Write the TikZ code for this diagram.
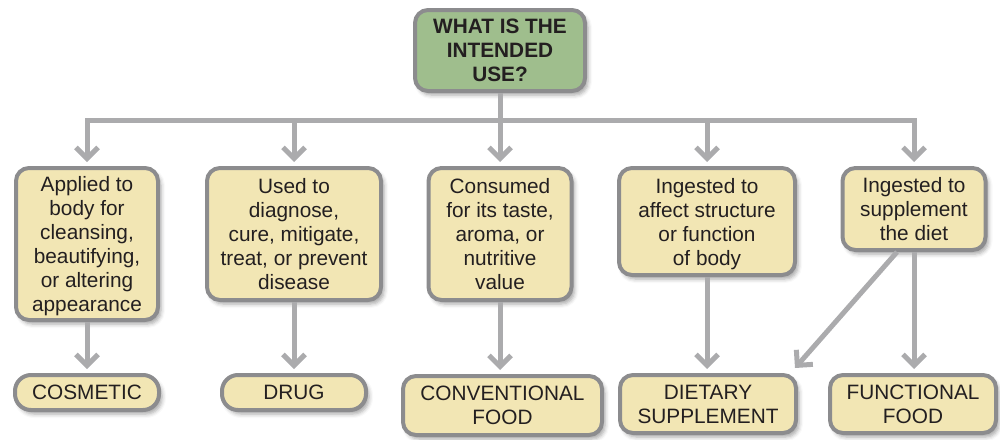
\documentclass[tikz,border=0pt]{standalone}
\usepackage{fontspec}
\setmainfont{Liberation Sans}
\usetikzlibrary{arrows.meta,shadows.blur}
\definecolor{boxfill}{HTML}{F2E6B4}
\definecolor{topfill}{HTML}{9FBE8D}
\definecolor{boxline}{HTML}{8C8C8E}
\definecolor{linkgray}{HTML}{ABABAD}
\definecolor{ink}{HTML}{231F20}
\tikzset{
  % a fixed (negative) text depth keeps descenders from lifting the text block
  box/.style={draw=boxline, line width=4pt, fill=boxfill, rounded corners=13pt,
    align=center, inner sep=0pt, text=ink, text depth=-3pt,
    font=\fontsize{20.8}{24}\selectfont,
    blur shadow={shadow xshift=3pt, shadow yshift=-4pt, shadow blur radius=4pt, shadow opacity=35}},
  question/.style={box, fill=topfill, font=\fontsize{20.8}{24}\selectfont\bfseries},
  link/.style={draw=linkgray, line width=5pt},
  arrowlink/.style={link, -{Straight Barb[length=11pt,width=22pt]}, shorten >=4pt},
}
\begin{document}
\begin{tikzpicture}[x=1pt,y=-1pt]
\useasboundingbox (0,0) rectangle (1000,439);

% question at the top
\node[question, minimum width=170pt, minimum height=81pt] (q) at (500,50.5)
  {WHAT IS THE\\INTENDED\\USE?};

% descriptions of intended use
\node[box, minimum width=142pt, minimum height=152pt] (b1) at (87,244)
  {Applied to\\body for\\cleansing,\\beautifying,\\or altering\\appearance};
\node[box, minimum width=174pt, minimum height=132pt] (b2) at (294,234)
  {Used to\\diagnose,\\cure, mitigate,\\treat, or prevent\\disease};
\node[box, minimum width=143pt, minimum height=132pt] (b3) at (500,234)
  {Consumed\\for its taste,\\aroma, or\\nutritive\\value};
\node[box, minimum width=176pt, minimum height=107pt] (b4) at (707,221.5)
  {Ingested to\\affect structure\\or function\\of body};
\node[box, minimum width=143pt, minimum height=82pt] (b5) at (914,209)
  {Ingested to\\supplement\\the diet};

% resulting categories
\node[box, minimum width=144pt, minimum height=35pt, rounded corners=16pt] (c1) at (87,392.5) {COSMETIC};
\node[box, minimum width=144pt, minimum height=35pt, rounded corners=16pt] (c2) at (294,392.5) {DRUG};
\node[box, minimum width=199pt, minimum height=59pt] (c3) at (502.5,405.5) {CONVENTIONAL\\FOOD};
\node[box, minimum width=176pt, minimum height=58pt] (c4) at (708,404) {DIETARY\\SUPPLEMENT};
\node[box, minimum width=166pt, minimum height=58pt] (c5) at (913,404) {FUNCTIONAL\\FOOD};

% branching connectors from the question
\coordinate (split) at (500,120);
\foreach \b in {b1,b2,b3,b4,b5}
  \draw[arrowlink] (q.south) -- (split) -| (\b.north);

% connectors to the categories
\draw[arrowlink] (b1.south) -- (b1.south |- c1.north);
\draw[arrowlink] (b2.south) -- (b2.south |- c2.north);
\draw[arrowlink] (b3.south) -- (b3.south |- c3.north);
\draw[arrowlink] (b4.south) -- (b4.south |- c4.north);
\draw[arrowlink] (b5.south) -- (b5.south |- c5.north);
\draw[link, -{Straight Barb[length=11pt,width=22pt]}]
  ([xshift=-17pt]b5.south) -- ([xshift=-3pt,yshift=5pt]c4.north east);
\end{tikzpicture}
\end{document}
